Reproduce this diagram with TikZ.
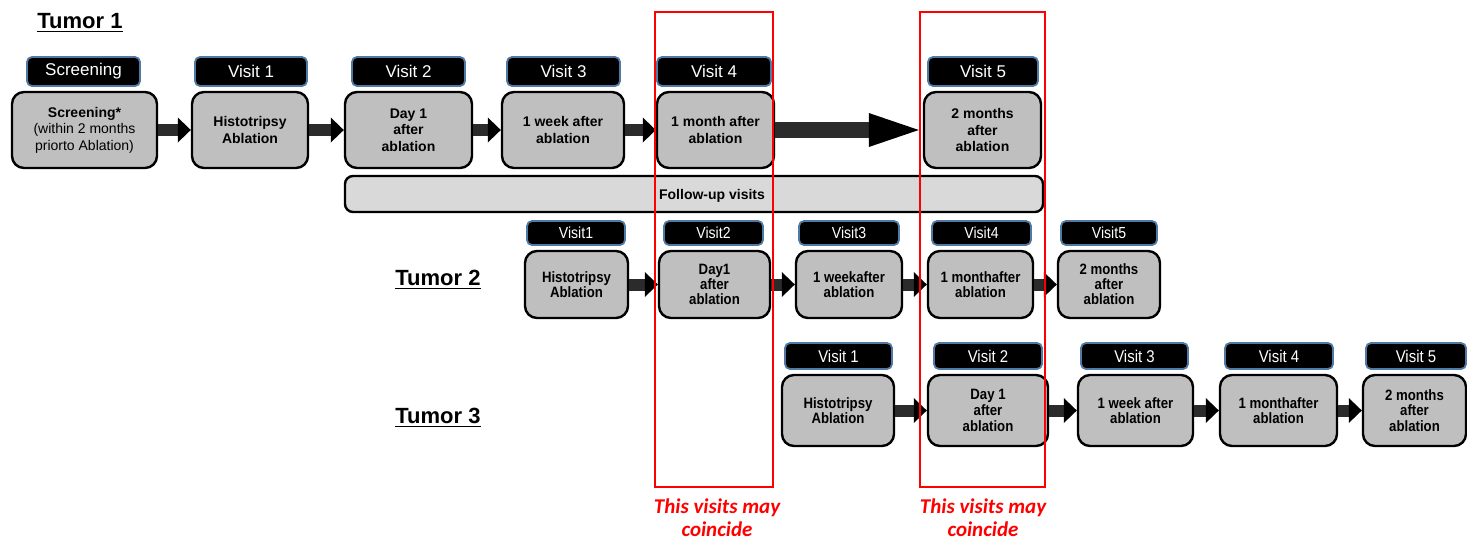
\documentclass[tikz,border=0pt]{standalone}
\usepackage{fontspec}
\setmainfont{Liberation Sans}
\newfontfamily\narrowfont[FakeStretch=0.88]{Liberation Sans}
\newfontfamily\notefont{Carlito}
\usepackage{tikz}
\usetikzlibrary{arrows.meta}
\definecolor{tagline}{HTML}{4F7AA5}
\definecolor{boxgray}{HTML}{BFBFBF}
\definecolor{bargray}{HTML}{D9D9D9}
\definecolor{arrowgray}{HTML}{2B2B2B}

\begin{document}
\begin{tikzpicture}[x=0.5pt, y=-0.5pt,
tag/.style={draw=tagline, line width=0.9pt, fill=black, text=white, rounded corners=2.5pt, inner sep=0pt, minimum height=14.5pt, font=\fontsize{8.5}{10}\selectfont},
tagn/.style={tag, minimum height=12pt, font=\narrowfont\fontsize{8}{9}\selectfont},
tagm/.style={tag, minimum height=13pt, font=\narrowfont\fontsize{8.5}{10}\selectfont},
visit/.style={draw=black, line width=1.2pt, fill=boxgray, rounded corners=6pt, inner sep=0pt, align=center, minimum height=38pt, font=\fontsize{7}{8.3}\selectfont\bfseries},
visitn/.style={visit, minimum height=33.5pt, font=\narrowfont\fontsize{7.5}{7.5}\selectfont\bfseries},
visitm/.style={visit, minimum height=35.5pt, font=\narrowfont\fontsize{7.5}{7.8}\selectfont\bfseries},
tumor/.style={anchor=west, inner sep=0pt, font=\fontsize{11}{13}\selectfont\bfseries},
flow/.style={draw=arrowgray, line width=6pt, -{Triangle[width=12.5pt, length=6.5pt, line width=0pt]}},
bigflow/.style={line width=8pt, shorten >=2pt, -{Triangle[width=17pt, length=25pt, line width=0pt]}},
coincide/.style={red, line width=1pt},
note/.style={text=red, align=center, inner sep=0pt, font=\notefont\fontsize{10.5}{11.5}\selectfont\bfseries\itshape}]
\useasboundingbox (0,0) rectangle (1467,542);

% Tumor 1
\node[tumor] (tum-1) at (37,23) {\underline{Tumor 1}};
\node[tag, minimum width=56.5pt] (h-1-0) at (83.5,71.5) {Screening};
\node[tag, minimum width=56pt] (h-1-1) at (251,71.5) {Visit 1};
\node[tag, minimum width=56.5pt] (h-1-2) at (408.5,71.5) {Visit 2};
\node[tag, minimum width=56.5pt] (h-1-3) at (563.5,71.5) {Visit 3};
\node[tag, minimum width=57pt] (h-1-4) at (714,71.5) {Visit 4};
\node[tag, minimum width=55pt] (h-1-5) at (983,71.5) {Visit 5};
\node[visit, minimum width=72.5pt] (m-1-0) at (84.5,130) {Screening*\\{\mdseries (within 2 months}\\{\mdseries priorto Ablation)}};
\node[visit, minimum width=58pt] (m-1-1) at (250,130) {Histotripsy\\Ablation};
\node[visit, minimum width=63.5pt] (m-1-2) at (408.5,130) {Day 1\\after\\ablation};
\node[visit, minimum width=61pt] (m-1-3) at (563,130) {1 week after\\ablation};
\node[visit, minimum width=58.5pt] (m-1-4) at (715.5,130) {1 month after\\ablation};
\node[visit, minimum width=58.5pt] (m-1-5) at (982.5,130) {2 months\\after\\ablation};
\node[draw=black, line width=1.2pt, fill=bargray, rounded corners=4pt, minimum width=349pt, minimum height=18pt] (fu) at (694,194) {};
\node[inner sep=0pt, font=\fontsize{7}{8}\selectfont\bfseries] (fu-text) at (712,196) {Follow-up visits};
\path[flow]
(m-1-0) edge (m-1-1)
(m-1-1) edge (m-1-2)
(m-1-2) edge (m-1-3)
(m-1-3) edge (m-1-4)
(m-1-4) edge[bigflow] (m-1-5);

% Tumor 2
\node[tumor] (tum-2) at (395,280) {\underline{Tumor 2}};
\node[tagn, minimum width=49pt] (h-2-1) at (576,233) {Visit1};
\node[tagn, minimum width=49.5pt] (h-2-2) at (713.5,233) {Visit2};
\node[tagn, minimum width=50pt] (h-2-3) at (849,233) {Visit3};
\node[tagn, minimum width=49.5pt] (h-2-4) at (981.5,233) {Visit4};
\node[tagn, minimum width=48pt] (h-2-5) at (1109,233) {Visit5};
\node[visitn, minimum width=51.5pt] (m-2-1) at (576.5,284.5) {Histotripsy\\Ablation};
\node[visitn, minimum width=55.5pt] (m-2-2) at (714.5,284.5) {Day1\\after\\ablation};
\node[visitn, minimum width=53pt] (m-2-3) at (849,284.5) {1 weekafter\\ablation};
\node[visitn, minimum width=52.5pt] (m-2-4) at (980.5,284.5) {1 monthafter\\ablation};
\node[visitn, minimum width=51pt] (m-2-5) at (1109,284.5) {2 months\\after\\ablation};
\path[flow]
(m-2-1) edge (m-2-2)
(m-2-2) edge (m-2-3)
(m-2-3) edge (m-2-4)
(m-2-4) edge (m-2-5);

% Tumor 3
\node[tumor] (tum-3) at (395,418) {\underline{Tumor 3}};
\node[tagm, minimum width=53.5pt] (h-3-1) at (838.5,356) {Visit 1};
\node[tagm, minimum width=54pt] (h-3-2) at (988,356) {Visit 2};
\node[tagm, minimum width=53.5pt] (h-3-3) at (1134.5,356) {Visit 3};
\node[tagm, minimum width=54pt] (h-3-4) at (1279,356) {Visit 4};
\node[tagm, minimum width=50pt] (h-3-5) at (1416,356) {Visit 5};
\node[visitm, minimum width=56pt] (m-3-1) at (838,410.5) {Histotripsy\\Ablation};
\node[visitm, minimum width=60pt] (m-3-2) at (988,410.5) {Day 1\\after\\ablation};
\node[visitm, minimum width=57.5pt] (m-3-3) at (1135.5,410.5) {1 week after\\ablation};
\node[visitm, minimum width=58.5pt] (m-3-4) at (1278.5,410.5) {1 monthafter\\ablation};
\node[visitm, minimum width=51.5pt] (m-3-5) at (1414.5,410.5) {2 months\\after\\ablation};
\path[flow]
(m-3-1) edge (m-3-2)
(m-3-2) edge (m-3-3)
(m-3-3) edge (m-3-4)
(m-3-4) edge (m-3-5);

% visits that may coincide
\draw[coincide] (655,12) rectangle (773,487);
\draw[coincide] (920,12) rectangle (1045,487);
\node[note] (n-1) at (717,518) {This visits may\\coincide};
\node[note] (n-2) at (983,518) {This visits may\\coincide};
\end{tikzpicture}
\end{document}
